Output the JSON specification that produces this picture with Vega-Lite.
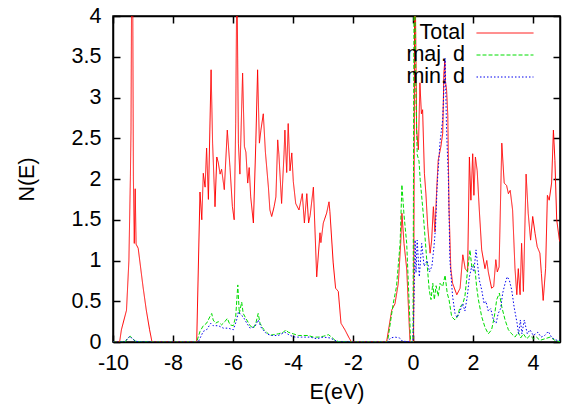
{
  "$schema": "https://vega.github.io/schema/vega-lite/v6.json",
  "width": 447,
  "height": 326,
  "autosize": "none",
  "padding": {"left": 113, "top": 16, "right": 2, "bottom": 70},
  "background": "white",
  "config": {
    "font": "Liberation Sans",
    "view": {"stroke": "black", "strokeWidth": 1.5},
    "axis": {
      "grid": false,
      "domainColor": "black",
      "domainWidth": 1.5,
      "tickColor": "black",
      "tickWidth": 1.5,
      "tickSize": -7,
      "labelFont": "Liberation Sans",
      "labelFontSize": 21.5,
      "labelColor": "black",
      "labelFlush": false,
      "titleFont": "Liberation Sans",
      "titleFontSize": 21.5,
      "titleFontWeight": "normal",
      "titleColor": "black",
      "zindex": 1
    },
    "legend": {
      "orient": "none",
      "legendX": 363,
      "legendY": 6,
      "padding": 0,
      "symbolType": "M-2.714,0H2.714",
      "symbolSize": 441,
      "symbolStrokeWidth": 1,
      "symbolOffset": 18,
      "labelAlign": "right",
      "labelOffset": -51,
      "labelFont": "Liberation Sans",
      "labelFontSize": 21.5,
      "labelColor": "black",
      "rowPadding": 0
    }
  },
  "data": {
    "values": [
      {"E": -10, "N": 0, "s": "Total"},
      {"E": -9.78, "N": 0, "s": "Total"},
      {"E": -9.72, "N": 0.15, "s": "Total"},
      {"E": -9.55, "N": 0.39, "s": "Total"},
      {"E": -9.47, "N": 1.0, "s": "Total"},
      {"E": -9.42, "N": 2.03, "s": "Total"},
      {"E": -9.4, "N": 2.6, "s": "Total"},
      {"E": -9.36, "N": 6.0, "s": "Total"},
      {"E": -9.32, "N": 2.0, "s": "Total"},
      {"E": -9.29, "N": 1.21, "s": "Total"},
      {"E": -9.26, "N": 1.88, "s": "Total"},
      {"E": -9.23, "N": 1.2, "s": "Total"},
      {"E": -9.16, "N": 1.15, "s": "Total"},
      {"E": -9.0, "N": 0.68, "s": "Total"},
      {"E": -8.89, "N": 0.39, "s": "Total"},
      {"E": -8.78, "N": 0.15, "s": "Total"},
      {"E": -8.7, "N": 0, "s": "Total"},
      {"E": -7.21, "N": 0, "s": "Total"},
      {"E": -7.1, "N": 1.84, "s": "Total"},
      {"E": -7.04, "N": 1.5, "s": "Total"},
      {"E": -6.99, "N": 2.07, "s": "Total"},
      {"E": -6.93, "N": 1.9, "s": "Total"},
      {"E": -6.88, "N": 2.38, "s": "Total"},
      {"E": -6.82, "N": 1.75, "s": "Total"},
      {"E": -6.73, "N": 3.34, "s": "Total"},
      {"E": -6.68, "N": 2.44, "s": "Total"},
      {"E": -6.6, "N": 1.66, "s": "Total"},
      {"E": -6.54, "N": 2.27, "s": "Total"},
      {"E": -6.49, "N": 2.2, "s": "Total"},
      {"E": -6.43, "N": 2.06, "s": "Total"},
      {"E": -6.38, "N": 2.12, "s": "Total"},
      {"E": -6.29, "N": 1.87, "s": "Total"},
      {"E": -6.19, "N": 2.6, "s": "Total"},
      {"E": -6.1, "N": 2.14, "s": "Total"},
      {"E": -6.02, "N": 1.66, "s": "Total"},
      {"E": -5.96, "N": 1.5, "s": "Total"},
      {"E": -5.91, "N": 2.68, "s": "Total"},
      {"E": -5.87, "N": 4.6, "s": "Total"},
      {"E": -5.82, "N": 2.44, "s": "Total"},
      {"E": -5.77, "N": 2.06, "s": "Total"},
      {"E": -5.68, "N": 3.3, "s": "Total"},
      {"E": -5.62, "N": 2.4, "s": "Total"},
      {"E": -5.57, "N": 2.33, "s": "Total"},
      {"E": -5.51, "N": 1.95, "s": "Total"},
      {"E": -5.46, "N": 2.14, "s": "Total"},
      {"E": -5.41, "N": 1.78, "s": "Total"},
      {"E": -5.32, "N": 1.46, "s": "Total"},
      {"E": -5.24, "N": 2.44, "s": "Total"},
      {"E": -5.18, "N": 3.34, "s": "Total"},
      {"E": -5.12, "N": 2.44, "s": "Total"},
      {"E": -5.07, "N": 2.6, "s": "Total"},
      {"E": -4.99, "N": 2.8, "s": "Total"},
      {"E": -4.92, "N": 2.33, "s": "Total"},
      {"E": -4.82, "N": 1.9, "s": "Total"},
      {"E": -4.77, "N": 1.62, "s": "Total"},
      {"E": -4.71, "N": 1.54, "s": "Total"},
      {"E": -4.63, "N": 1.66, "s": "Total"},
      {"E": -4.57, "N": 1.78, "s": "Total"},
      {"E": -4.51, "N": 2.48, "s": "Total"},
      {"E": -4.47, "N": 2.3, "s": "Total"},
      {"E": -4.38, "N": 1.7, "s": "Total"},
      {"E": -4.3, "N": 2.3, "s": "Total"},
      {"E": -4.27, "N": 2.6, "s": "Total"},
      {"E": -4.21, "N": 2.08, "s": "Total"},
      {"E": -4.16, "N": 2.68, "s": "Total"},
      {"E": -4.1, "N": 2.1, "s": "Total"},
      {"E": -4.04, "N": 2.32, "s": "Total"},
      {"E": -3.99, "N": 1.97, "s": "Total"},
      {"E": -3.91, "N": 1.7, "s": "Total"},
      {"E": -3.8, "N": 1.62, "s": "Total"},
      {"E": -3.69, "N": 1.82, "s": "Total"},
      {"E": -3.62, "N": 1.46, "s": "Total"},
      {"E": -3.54, "N": 1.82, "s": "Total"},
      {"E": -3.48, "N": 1.46, "s": "Total"},
      {"E": -3.43, "N": 1.55, "s": "Total"},
      {"E": -3.32, "N": 1.9, "s": "Total"},
      {"E": -3.21, "N": 0.8, "s": "Total"},
      {"E": -3.1, "N": 1.34, "s": "Total"},
      {"E": -3.07, "N": 1.22, "s": "Total"},
      {"E": -2.99, "N": 1.46, "s": "Total"},
      {"E": -2.88, "N": 1.58, "s": "Total"},
      {"E": -2.8, "N": 1.72, "s": "Total"},
      {"E": -2.77, "N": 1.6, "s": "Total"},
      {"E": -2.66, "N": 0.97, "s": "Total"},
      {"E": -2.58, "N": 0.66, "s": "Total"},
      {"E": -2.49, "N": 0.62, "s": "Total"},
      {"E": -2.4, "N": 0.23, "s": "Total"},
      {"E": -2.27, "N": 0.15, "s": "Total"},
      {"E": -2.13, "N": 0.05, "s": "Total"},
      {"E": -2.05, "N": 0, "s": "Total"},
      {"E": -0.88, "N": 0, "s": "Total"},
      {"E": -0.71, "N": 0.39, "s": "Total"},
      {"E": -0.6, "N": 0.47, "s": "Total"},
      {"E": -0.49, "N": 0.72, "s": "Total"},
      {"E": -0.41, "N": 1.21, "s": "Total"},
      {"E": -0.37, "N": 1.58, "s": "Total"},
      {"E": -0.3, "N": 1.21, "s": "Total"},
      {"E": -0.21, "N": 0.9, "s": "Total"},
      {"E": -0.1, "N": 0, "s": "Total"},
      {"E": 0.02, "N": 0, "s": "Total"},
      {"E": 0.06, "N": 5, "s": "Total"},
      {"E": 0.12, "N": 2.6, "s": "Total"},
      {"E": 0.18, "N": 2.36, "s": "Total"},
      {"E": 0.23, "N": 3.18, "s": "Total"},
      {"E": 0.28, "N": 2.8, "s": "Total"},
      {"E": 0.32, "N": 2.85, "s": "Total"},
      {"E": 0.38, "N": 2.07, "s": "Total"},
      {"E": 0.43, "N": 1.82, "s": "Total"},
      {"E": 0.49, "N": 1.42, "s": "Total"},
      {"E": 0.57, "N": 1.09, "s": "Total"},
      {"E": 0.62, "N": 1.24, "s": "Total"},
      {"E": 0.68, "N": 1.66, "s": "Total"},
      {"E": 0.73, "N": 1.35, "s": "Total"},
      {"E": 0.79, "N": 1.87, "s": "Total"},
      {"E": 0.84, "N": 2.23, "s": "Total"},
      {"E": 0.93, "N": 2.4, "s": "Total"},
      {"E": 0.99, "N": 2.56, "s": "Total"},
      {"E": 1.03, "N": 3.3, "s": "Total"},
      {"E": 1.06, "N": 3.45, "s": "Total"},
      {"E": 1.08, "N": 3.2, "s": "Total"},
      {"E": 1.12, "N": 3.09, "s": "Total"},
      {"E": 1.16, "N": 2.78, "s": "Total"},
      {"E": 1.2, "N": 1.66, "s": "Total"},
      {"E": 1.26, "N": 0.9, "s": "Total"},
      {"E": 1.32, "N": 0.72, "s": "Total"},
      {"E": 1.46, "N": 0.58, "s": "Total"},
      {"E": 1.57, "N": 0.66, "s": "Total"},
      {"E": 1.66, "N": 1.07, "s": "Total"},
      {"E": 1.74, "N": 0.9, "s": "Total"},
      {"E": 1.82, "N": 0.86, "s": "Total"},
      {"E": 1.88, "N": 2.27, "s": "Total"},
      {"E": 1.93, "N": 1.74, "s": "Total"},
      {"E": 1.99, "N": 2.31, "s": "Total"},
      {"E": 2.03, "N": 1.8, "s": "Total"},
      {"E": 2.08, "N": 2.27, "s": "Total"},
      {"E": 2.14, "N": 2.1, "s": "Total"},
      {"E": 2.21, "N": 1.62, "s": "Total"},
      {"E": 2.29, "N": 1.13, "s": "Total"},
      {"E": 2.4, "N": 0.9, "s": "Total"},
      {"E": 2.46, "N": 1.0, "s": "Total"},
      {"E": 2.51, "N": 0.86, "s": "Total"},
      {"E": 2.62, "N": 0.66, "s": "Total"},
      {"E": 2.69, "N": 0.68, "s": "Total"},
      {"E": 2.76, "N": 1.01, "s": "Total"},
      {"E": 2.81, "N": 0.86, "s": "Total"},
      {"E": 2.87, "N": 0.92, "s": "Total"},
      {"E": 2.96, "N": 2.44, "s": "Total"},
      {"E": 3.04, "N": 1.95, "s": "Total"},
      {"E": 3.12, "N": 1.92, "s": "Total"},
      {"E": 3.18, "N": 1.82, "s": "Total"},
      {"E": 3.24, "N": 1.86, "s": "Total"},
      {"E": 3.32, "N": 1.62, "s": "Total"},
      {"E": 3.4, "N": 0.9, "s": "Total"},
      {"E": 3.46, "N": 0.58, "s": "Total"},
      {"E": 3.51, "N": 0.9, "s": "Total"},
      {"E": 3.57, "N": 0.58, "s": "Total"},
      {"E": 3.62, "N": 1.21, "s": "Total"},
      {"E": 3.68, "N": 0.62, "s": "Total"},
      {"E": 3.77, "N": 2.06, "s": "Total"},
      {"E": 3.84, "N": 1.58, "s": "Total"},
      {"E": 3.92, "N": 1.25, "s": "Total"},
      {"E": 3.99, "N": 1.54, "s": "Total"},
      {"E": 4.07, "N": 1.33, "s": "Total"},
      {"E": 4.14, "N": 1.17, "s": "Total"},
      {"E": 4.23, "N": 1.09, "s": "Total"},
      {"E": 4.28, "N": 0.84, "s": "Total"},
      {"E": 4.34, "N": 0.51, "s": "Total"},
      {"E": 4.42, "N": 0.9, "s": "Total"},
      {"E": 4.48, "N": 1.8, "s": "Total"},
      {"E": 4.54, "N": 1.74, "s": "Total"},
      {"E": 4.62, "N": 1.95, "s": "Total"},
      {"E": 4.68, "N": 2.6, "s": "Total"},
      {"E": 4.73, "N": 2.23, "s": "Total"},
      {"E": 4.79, "N": 1.5, "s": "Total"},
      {"E": 4.88, "N": 1.25, "s": "Total"},
      {"E": 4.95, "N": 1.2, "s": "Total"},

      {"E": -10, "N": 0, "s": "maj. d"},
      {"E": -9.6, "N": 0, "s": "maj. d"},
      {"E": -9.5, "N": 0.05, "s": "maj. d"},
      {"E": -9.42, "N": 0.07, "s": "maj. d"},
      {"E": -9.35, "N": 0.04, "s": "maj. d"},
      {"E": -9.25, "N": 0.01, "s": "maj. d"},
      {"E": -9.1, "N": 0, "s": "maj. d"},
      {"E": -7.21, "N": 0, "s": "maj. d"},
      {"E": -7.1, "N": 0.13, "s": "maj. d"},
      {"E": -6.99, "N": 0.2, "s": "maj. d"},
      {"E": -6.88, "N": 0.23, "s": "maj. d"},
      {"E": -6.77, "N": 0.31, "s": "maj. d"},
      {"E": -6.71, "N": 0.35, "s": "maj. d"},
      {"E": -6.66, "N": 0.27, "s": "maj. d"},
      {"E": -6.58, "N": 0.23, "s": "maj. d"},
      {"E": -6.49, "N": 0.25, "s": "maj. d"},
      {"E": -6.38, "N": 0.21, "s": "maj. d"},
      {"E": -6.27, "N": 0.25, "s": "maj. d"},
      {"E": -6.19, "N": 0.29, "s": "maj. d"},
      {"E": -6.1, "N": 0.21, "s": "maj. d"},
      {"E": -5.99, "N": 0.2, "s": "maj. d"},
      {"E": -5.91, "N": 0.31, "s": "maj. d"},
      {"E": -5.84, "N": 0.7, "s": "maj. d"},
      {"E": -5.79, "N": 0.35, "s": "maj. d"},
      {"E": -5.71, "N": 0.49, "s": "maj. d"},
      {"E": -5.66, "N": 0.35, "s": "maj. d"},
      {"E": -5.54, "N": 0.27, "s": "maj. d"},
      {"E": -5.43, "N": 0.2, "s": "maj. d"},
      {"E": -5.32, "N": 0.17, "s": "maj. d"},
      {"E": -5.24, "N": 0.23, "s": "maj. d"},
      {"E": -5.16, "N": 0.35, "s": "maj. d"},
      {"E": -5.1, "N": 0.23, "s": "maj. d"},
      {"E": -4.99, "N": 0.16, "s": "maj. d"},
      {"E": -4.88, "N": 0.12, "s": "maj. d"},
      {"E": -4.77, "N": 0.08, "s": "maj. d"},
      {"E": -4.66, "N": 0.09, "s": "maj. d"},
      {"E": -4.49, "N": 0.1, "s": "maj. d"},
      {"E": -4.32, "N": 0.12, "s": "maj. d"},
      {"E": -4.24, "N": 0.15, "s": "maj. d"},
      {"E": -4.16, "N": 0.12, "s": "maj. d"},
      {"E": -3.99, "N": 0.1, "s": "maj. d"},
      {"E": -3.82, "N": 0.08, "s": "maj. d"},
      {"E": -3.66, "N": 0.08, "s": "maj. d"},
      {"E": -3.49, "N": 0.08, "s": "maj. d"},
      {"E": -3.32, "N": 0.06, "s": "maj. d"},
      {"E": -3.16, "N": 0.06, "s": "maj. d"},
      {"E": -2.99, "N": 0.07, "s": "maj. d"},
      {"E": -2.82, "N": 0.09, "s": "maj. d"},
      {"E": -2.71, "N": 0.06, "s": "maj. d"},
      {"E": -2.6, "N": 0.02, "s": "maj. d"},
      {"E": -2.43, "N": 0, "s": "maj. d"},
      {"E": -0.85, "N": 0, "s": "maj. d"},
      {"E": -0.66, "N": 0.47, "s": "maj. d"},
      {"E": -0.55, "N": 0.68, "s": "maj. d"},
      {"E": -0.43, "N": 1.21, "s": "maj. d"},
      {"E": -0.37, "N": 1.93, "s": "maj. d"},
      {"E": -0.3, "N": 1.56, "s": "maj. d"},
      {"E": -0.21, "N": 1.21, "s": "maj. d"},
      {"E": -0.12, "N": 0.4, "s": "maj. d"},
      {"E": -0.08, "N": 0, "s": "maj. d"},
      {"E": 0.0, "N": 0, "s": "maj. d"},
      {"E": 0.04, "N": 5, "s": "maj. d"},
      {"E": 0.1, "N": 3.0, "s": "maj. d"},
      {"E": 0.14, "N": 2.3, "s": "maj. d"},
      {"E": 0.2, "N": 2.22, "s": "maj. d"},
      {"E": 0.24, "N": 1.99, "s": "maj. d"},
      {"E": 0.34, "N": 1.58, "s": "maj. d"},
      {"E": 0.46, "N": 1.0, "s": "maj. d"},
      {"E": 0.54, "N": 0.64, "s": "maj. d"},
      {"E": 0.6, "N": 0.52, "s": "maj. d"},
      {"E": 0.66, "N": 0.72, "s": "maj. d"},
      {"E": 0.71, "N": 0.52, "s": "maj. d"},
      {"E": 0.77, "N": 0.69, "s": "maj. d"},
      {"E": 0.84, "N": 0.56, "s": "maj. d"},
      {"E": 0.9, "N": 0.72, "s": "maj. d"},
      {"E": 0.99, "N": 0.68, "s": "maj. d"},
      {"E": 1.07, "N": 0.82, "s": "maj. d"},
      {"E": 1.14, "N": 0.6, "s": "maj. d"},
      {"E": 1.2, "N": 0.52, "s": "maj. d"},
      {"E": 1.29, "N": 0.31, "s": "maj. d"},
      {"E": 1.4, "N": 0.27, "s": "maj. d"},
      {"E": 1.48, "N": 0.31, "s": "maj. d"},
      {"E": 1.57, "N": 0.43, "s": "maj. d"},
      {"E": 1.66, "N": 0.47, "s": "maj. d"},
      {"E": 1.73, "N": 0.56, "s": "maj. d"},
      {"E": 1.82, "N": 0.88, "s": "maj. d"},
      {"E": 1.9, "N": 1.13, "s": "maj. d"},
      {"E": 1.96, "N": 0.92, "s": "maj. d"},
      {"E": 2.01, "N": 0.95, "s": "maj. d"},
      {"E": 2.07, "N": 0.88, "s": "maj. d"},
      {"E": 2.12, "N": 0.68, "s": "maj. d"},
      {"E": 2.18, "N": 0.52, "s": "maj. d"},
      {"E": 2.29, "N": 0.31, "s": "maj. d"},
      {"E": 2.4, "N": 0.18, "s": "maj. d"},
      {"E": 2.51, "N": 0.1, "s": "maj. d"},
      {"E": 2.62, "N": 0.15, "s": "maj. d"},
      {"E": 2.71, "N": 0.31, "s": "maj. d"},
      {"E": 2.79, "N": 0.52, "s": "maj. d"},
      {"E": 2.88, "N": 0.6, "s": "maj. d"},
      {"E": 2.96, "N": 0.43, "s": "maj. d"},
      {"E": 3.07, "N": 0.27, "s": "maj. d"},
      {"E": 3.18, "N": 0.15, "s": "maj. d"},
      {"E": 3.29, "N": 0.1, "s": "maj. d"},
      {"E": 3.4, "N": 0.06, "s": "maj. d"},
      {"E": 3.51, "N": 0.12, "s": "maj. d"},
      {"E": 3.59, "N": 0.05, "s": "maj. d"},
      {"E": 3.68, "N": 0.1, "s": "maj. d"},
      {"E": 3.79, "N": 0.04, "s": "maj. d"},
      {"E": 3.9, "N": 0.08, "s": "maj. d"},
      {"E": 4.01, "N": 0.04, "s": "maj. d"},
      {"E": 4.12, "N": 0.06, "s": "maj. d"},
      {"E": 4.23, "N": 0.02, "s": "maj. d"},
      {"E": 4.4, "N": 0.04, "s": "maj. d"},
      {"E": 4.57, "N": 0.06, "s": "maj. d"},
      {"E": 4.73, "N": 0.02, "s": "maj. d"},
      {"E": 4.95, "N": 0, "s": "maj. d"},

      {"E": -10, "N": 0, "s": "min. d"},
      {"E": -9.6, "N": 0, "s": "min. d"},
      {"E": -9.5, "N": 0.05, "s": "min. d"},
      {"E": -9.44, "N": 0.07, "s": "min. d"},
      {"E": -9.36, "N": 0.04, "s": "min. d"},
      {"E": -9.25, "N": 0.01, "s": "min. d"},
      {"E": -9.1, "N": 0, "s": "min. d"},
      {"E": -7.16, "N": 0, "s": "min. d"},
      {"E": -6.99, "N": 0.13, "s": "min. d"},
      {"E": -6.88, "N": 0.15, "s": "min. d"},
      {"E": -6.74, "N": 0.23, "s": "min. d"},
      {"E": -6.66, "N": 0.2, "s": "min. d"},
      {"E": -6.49, "N": 0.2, "s": "min. d"},
      {"E": -6.32, "N": 0.17, "s": "min. d"},
      {"E": -6.16, "N": 0.17, "s": "min. d"},
      {"E": -5.99, "N": 0.15, "s": "min. d"},
      {"E": -5.88, "N": 0.27, "s": "min. d"},
      {"E": -5.82, "N": 0.37, "s": "min. d"},
      {"E": -5.73, "N": 0.33, "s": "min. d"},
      {"E": -5.66, "N": 0.31, "s": "min. d"},
      {"E": -5.54, "N": 0.23, "s": "min. d"},
      {"E": -5.43, "N": 0.17, "s": "min. d"},
      {"E": -5.27, "N": 0.19, "s": "min. d"},
      {"E": -5.16, "N": 0.27, "s": "min. d"},
      {"E": -5.05, "N": 0.17, "s": "min. d"},
      {"E": -4.88, "N": 0.1, "s": "min. d"},
      {"E": -4.71, "N": 0.08, "s": "min. d"},
      {"E": -4.49, "N": 0.08, "s": "min. d"},
      {"E": -4.27, "N": 0.12, "s": "min. d"},
      {"E": -4.1, "N": 0.08, "s": "min. d"},
      {"E": -3.93, "N": 0.06, "s": "min. d"},
      {"E": -3.71, "N": 0.06, "s": "min. d"},
      {"E": -3.43, "N": 0.06, "s": "min. d"},
      {"E": -3.21, "N": 0.04, "s": "min. d"},
      {"E": -2.99, "N": 0.06, "s": "min. d"},
      {"E": -2.77, "N": 0.05, "s": "min. d"},
      {"E": -2.6, "N": 0.02, "s": "min. d"},
      {"E": -2.49, "N": 0, "s": "min. d"},
      {"E": -0.85, "N": 0, "s": "min. d"},
      {"E": -0.75, "N": 0.05, "s": "min. d"},
      {"E": -0.6, "N": 0.06, "s": "min. d"},
      {"E": -0.45, "N": 0.05, "s": "min. d"},
      {"E": -0.35, "N": 0.01, "s": "min. d"},
      {"E": 0.0, "N": 0, "s": "min. d"},
      {"E": 0.04, "N": 0.6, "s": "min. d"},
      {"E": 0.07, "N": 1.25, "s": "min. d"},
      {"E": 0.1, "N": 0.85, "s": "min. d"},
      {"E": 0.14, "N": 1.25, "s": "min. d"},
      {"E": 0.21, "N": 0.8, "s": "min. d"},
      {"E": 0.29, "N": 1.21, "s": "min. d"},
      {"E": 0.37, "N": 0.93, "s": "min. d"},
      {"E": 0.47, "N": 1.0, "s": "min. d"},
      {"E": 0.55, "N": 0.86, "s": "min. d"},
      {"E": 0.63, "N": 0.93, "s": "min. d"},
      {"E": 0.7, "N": 1.17, "s": "min. d"},
      {"E": 0.75, "N": 1.4, "s": "min. d"},
      {"E": 0.81, "N": 1.95, "s": "min. d"},
      {"E": 0.9, "N": 2.45, "s": "min. d"},
      {"E": 0.99, "N": 2.73, "s": "min. d"},
      {"E": 1.04, "N": 3.2, "s": "min. d"},
      {"E": 1.07, "N": 3.48, "s": "min. d"},
      {"E": 1.12, "N": 2.58, "s": "min. d"},
      {"E": 1.18, "N": 2.0, "s": "min. d"},
      {"E": 1.23, "N": 1.0, "s": "min. d"},
      {"E": 1.32, "N": 0.56, "s": "min. d"},
      {"E": 1.4, "N": 0.35, "s": "min. d"},
      {"E": 1.47, "N": 0.3, "s": "min. d"},
      {"E": 1.57, "N": 0.38, "s": "min. d"},
      {"E": 1.66, "N": 0.47, "s": "min. d"},
      {"E": 1.73, "N": 0.38, "s": "min. d"},
      {"E": 1.81, "N": 0.56, "s": "min. d"},
      {"E": 1.88, "N": 0.8, "s": "min. d"},
      {"E": 1.96, "N": 0.93, "s": "min. d"},
      {"E": 2.03, "N": 0.86, "s": "min. d"},
      {"E": 2.1, "N": 1.13, "s": "min. d"},
      {"E": 2.14, "N": 1.0, "s": "min. d"},
      {"E": 2.21, "N": 0.76, "s": "min. d"},
      {"E": 2.29, "N": 0.64, "s": "min. d"},
      {"E": 2.37, "N": 0.47, "s": "min. d"},
      {"E": 2.43, "N": 0.5, "s": "min. d"},
      {"E": 2.51, "N": 0.38, "s": "min. d"},
      {"E": 2.59, "N": 0.41, "s": "min. d"},
      {"E": 2.68, "N": 0.27, "s": "min. d"},
      {"E": 2.77, "N": 0.23, "s": "min. d"},
      {"E": 2.84, "N": 0.35, "s": "min. d"},
      {"E": 2.92, "N": 0.41, "s": "min. d"},
      {"E": 2.99, "N": 0.6, "s": "min. d"},
      {"E": 3.07, "N": 0.72, "s": "min. d"},
      {"E": 3.14, "N": 0.8, "s": "min. d"},
      {"E": 3.21, "N": 0.76, "s": "min. d"},
      {"E": 3.29, "N": 0.64, "s": "min. d"},
      {"E": 3.37, "N": 0.43, "s": "min. d"},
      {"E": 3.47, "N": 0.23, "s": "min. d"},
      {"E": 3.52, "N": 0.1, "s": "min. d"},
      {"E": 3.58, "N": 0.27, "s": "min. d"},
      {"E": 3.63, "N": 0.1, "s": "min. d"},
      {"E": 3.71, "N": 0.27, "s": "min. d"},
      {"E": 3.81, "N": 0.1, "s": "min. d"},
      {"E": 3.9, "N": 0.15, "s": "min. d"},
      {"E": 4.01, "N": 0.08, "s": "min. d"},
      {"E": 4.16, "N": 0.12, "s": "min. d"},
      {"E": 4.27, "N": 0.06, "s": "min. d"},
      {"E": 4.39, "N": 0.08, "s": "min. d"},
      {"E": 4.51, "N": 0.13, "s": "min. d"},
      {"E": 4.63, "N": 0.05, "s": "min. d"},
      {"E": 4.8, "N": 0.02, "s": "min. d"},
      {"E": 4.95, "N": 0.02, "s": "min. d"}
    ]
  },
  "resolve": {"axis": {"x": "independent", "y": "independent"}},
  "layer": [
    {
      "mark": {"type": "line", "strokeWidth": 1, "clip": true},
      "encoding": {
        "x": {
          "field": "E", "type": "quantitative",
          "scale": {"domain": [-10, 4.9], "nice": false, "zero": false},
          "axis": {"title": "E(eV)", "values": [-10, -8, -6, -4, -2, 0, 2, 4], "labelExpr": "'' + datum.value", "labelPadding": 17, "titlePadding": 8}
        },
        "y": {
          "field": "N", "type": "quantitative",
          "scale": {"domain": [0, 4], "nice": false},
          "axis": {"title": "N(E)", "values": [0, 0.5, 1, 1.5, 2, 2.5, 3, 3.5, 4], "labelExpr": "'' + datum.value", "labelPadding": 19, "titlePadding": 33}
        },
        "color": {
          "field": "s", "type": "nominal",
          "scale": {"domain": ["Total", "maj. d", "min. d"], "range": ["#ff0000", "#00dd00", "#0000ee"]},
          "legend": {"title": null}
        },
        "strokeDash": {
          "field": "s", "type": "nominal",
          "scale": {"domain": ["Total", "maj. d", "min. d"], "range": [[1, 0], [4, 2], [1.5, 2]]},
          "legend": {"title": null}
        }
      }
    },
    {
      "mark": {"type": "point", "opacity": 0},
      "encoding": {
        "x": {"field": "E", "type": "quantitative", "axis": {"orient": "top", "labels": false, "title": null, "values": [-10, -8, -6, -4, -2, 0, 2, 4]}},
        "y": {"field": "N", "type": "quantitative", "axis": {"orient": "right", "labels": false, "title": null, "values": [0, 0.5, 1, 1.5, 2, 2.5, 3, 3.5, 4]}}
      }
    }
  ]
}
